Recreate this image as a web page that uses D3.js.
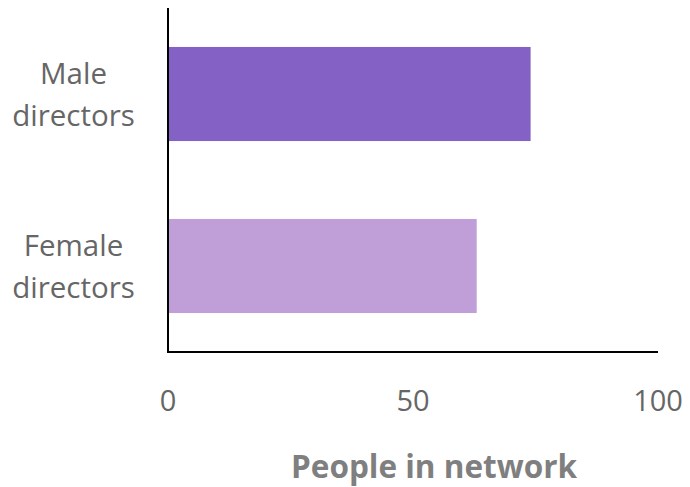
<!DOCTYPE html>
<html>
<head>
<meta charset="utf-8">
<script src="https://cdn.jsdelivr.net/npm/d3@7"></script>
<style>
  body { margin: 0; background: #fff; }
  text { font-family: "Open Sans", "Noto Sans", sans-serif; }
</style>
</head>
<body>
<svg id="chart"></svg>
<script>
// données du graphique
let categories = [["Male", "directors"], ["Female", "directors"]];
let valeurs = [74, 63];
let couleurs = ["#8461c4", "#c09fd8"];
let ticks = [0, 50, 100];
let titreAxe = "People in network";

let w = 690, h = 487;
let svg = d3.select("#chart")
    .attr("width", w)
    .attr("height", h);

// échelles
let x = d3.scaleLinear()
    .domain([0, 100])
    .range([168, 658]);

let y = d3.scaleBand()
    .domain(d3.range(categories.length))
    .range([8, 352])
    .paddingInner(0.453)
    .paddingOuter(0.2265);

// barres
svg.selectAll("rect.barre")
  .data(valeurs)
  .enter()
  .append("rect")
  .attr("class", "barre")
  .attr("x", x(0))
  .attr("y", (d, i) => y(i))
  .attr("width", d => x(d) - x(0))
  .attr("height", y.bandwidth())
  .style("fill", (d, i) => couleurs[i]);

// axe vertical
svg.append("line")
  .attr("x1", x(0)).attr("x2", x(0))
  .attr("y1", 8).attr("y2", 352)
  .style("stroke", "#000")
  .style("stroke-width", 2);

// axe horizontal
svg.append("line")
  .attr("x1", x(0) - 1).attr("x2", x(100))
  .attr("y1", 352).attr("y2", 352)
  .style("stroke", "#000")
  .style("stroke-width", 2);

// libellés des catégories
svg.selectAll("text.cat")
  .data(categories)
  .enter()
  .append("text")
  .attr("class", "cat")
  .attr("text-anchor", "middle")
  .style("font-size", "29.5px")
  .style("fill", "#666")
  .each(function(d, i) {
    let cy = y(i) + y.bandwidth() / 2;
    d3.select(this).selectAll("tspan")
      .data(d)
      .enter()
      .append("tspan")
      .attr("x", 73.5)
      .attr("y", (t, j) => cy - 10 + j * 42)
      .text(t => t);
  });

// graduations
svg.selectAll("text.tick")
  .data(ticks)
  .enter()
  .append("text")
  .attr("class", "tick")
  .attr("x", d => x(d))
  .attr("y", 411)
  .attr("text-anchor", "middle")
  .style("font-size", "29px")
  .style("fill", "#666")
  .text(d => d);

// titre de l'axe
svg.append("text")
  .attr("x", 434)
  .attr("y", 478)
  .attr("text-anchor", "middle")
  .style("font-size", "31.5px")
  .style("font-weight", "bold")
  .style("fill", "#7f7f7f")
  .text(titreAxe);
</script>
</body>
</html>
